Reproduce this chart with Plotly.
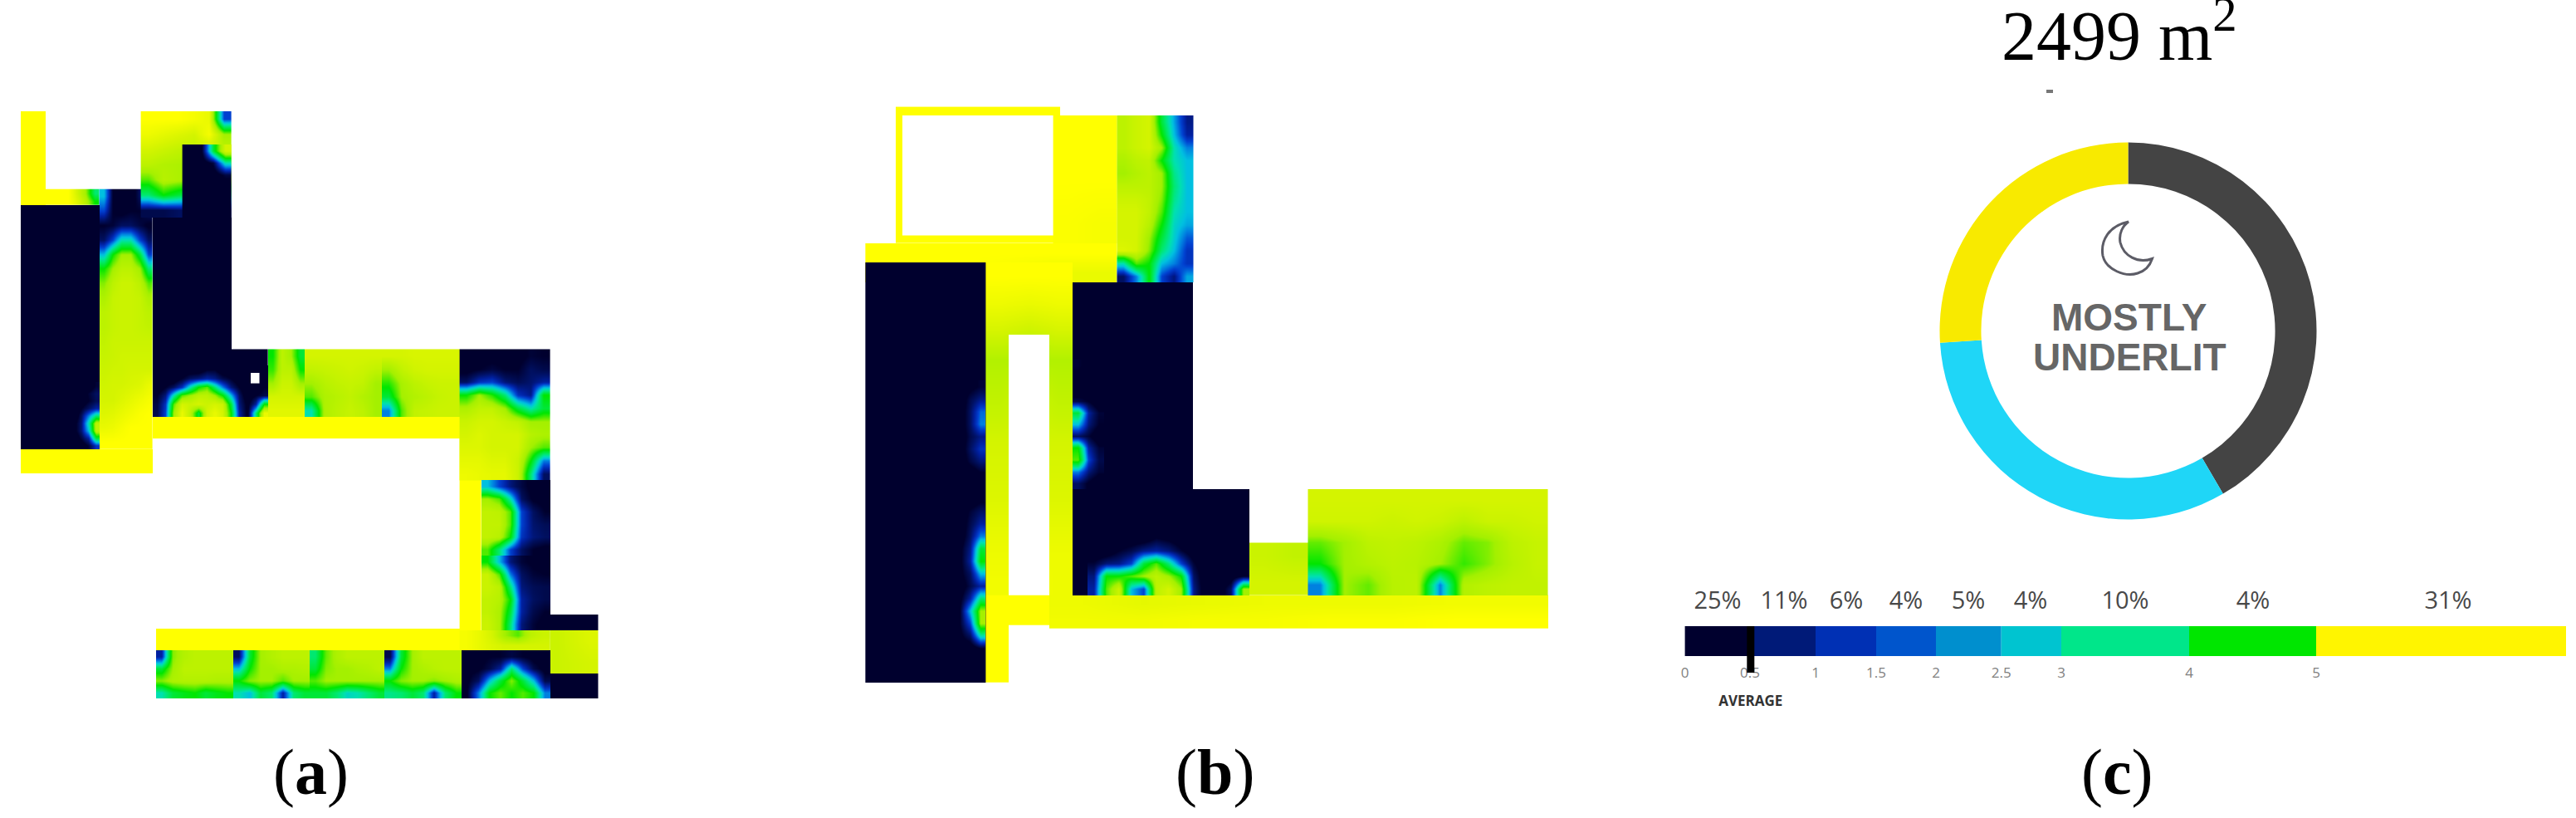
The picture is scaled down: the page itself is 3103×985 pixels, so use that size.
import plotly.graph_objects as go

# ---------- shared illuminance scale ----------
heat_stops = [0, 0.5, 1, 1.5, 2, 2.5, 3, 3.5, 4, 5, 6, 7, 8]
heat_colors = ["#00002e", "#00002e", "#001060", "#0020a0", "#0040d0", "#0080e0", "#00c0e0",
               "#00e0b0", "#00e870", "#00e600", "#a4f000", "#d4f400", "#ffff00"]
Z_MAX = 8

# ---------- panel (a) rooms: values top row first ----------
a_flat_yellow = [[8, 8], [8, 8]]
a_strip = [[8, 8, 8, 7, 6, 4], [8, 8, 8, 7.3, 6.4, 5]]
a_hall = [
    [3, .5, 0, 0, 1, 2], [2, .5, .3, .5, .5, 1], [.5, .6, 1, 1, .7, .4], [1, 2, 3.5, 3.5, 2, 1],
    [3, 5, 6, 6, 4.5, 2], [5, 6, 6.5, 6.5, 6, 4], [5.8, 6.5, 6.8, 6.8, 6.5, 5.5],
    [6.2, 6.7, 6.8, 6.8, 6.7, 6.2], [6.5, 6.7, 6.8, 6.8, 6.7, 6.5], [6.5, 6.7, 6.8, 6.8, 6.7, 6.6],
    [6.6, 6.8, 6.8, 6.8, 6.8, 6.8], [6.7, 6.8, 6.9, 6.9, 6.9, 6.9], [6.8, 6.9, 6.9, 7, 7, 7],
    [6.9, 7, 7, 7.1, 7.2, 7.5], [7, 7, 7.2, 7.4, 7.6, 7.8], [7.2, 7.3, 7.5, 7.7, 7.9, 8],
    [7.5, 7.6, 7.8, 8, 8, 8], [8, 8, 8, 8, 8, 8]]
a_left_blob = [
    [0, 0, 0, .6], [0, 0, .6, 1], [0, 0, .5, .9], [0, .5, 1, 1.5], [0, 1, 2.5, 4],
    [.3, 1.2, 3.5, 6.5], [.3, 1.2, 3, 6.5], [0, .7, 1.5, 4.5], [0, 0, .6, 1.8]]
a_navy = [[0, 0], [0, 0]]
a_top = [
    [8, 8, 8, 7.8, 7.5, 2], [7.6, 7.4, 7.2, 7, 7.8, 6], [7, 6.8, 6.6, 6.6, 6.6, 6.6],
    [6.5, 6.3, 6.2, 6, 6, 6], [5.5, 6.4, 6.2, 6, 6, 6], [4, 5, 4.5, 4, 4, 4], [.8, .8, 1, 1, 1, 1]]
a_top_notch = [
    [0, .3, 4.5, 7], [0, 0, .7, 3.5], [0, 0, 0, .7], [0, 0, 0, 0], [0, 0, 0, 0], [0, 0, 0, 0]]
a_center_blob = [
    [0, 0, 0, 0, 0, 0, .5, .5, 0, 0, 0, 0, 0, 0],
    [0, 0, 0, .5, 1, 1.2, 1.5, 1.3, .8, .5, 0, 0, 0, 0],
    [0, .5, 1, 1.8, 3.5, 5, 5.5, 4, 2.5, 1.2, .5, 0, 0, .5],
    [.5, 1.2, 3.5, 5.5, 6, 6.5, 6.5, 6, 5, 3, 1, 0, .5, .8],
    [.7, 1.8, 5.5, 7, 6.8, 7, 6.8, 7, 6.8, 4.5, 1.2, .3, 1.5, 5],
    [.8, 2, 6, 7.5, 6.5, 4.5, 7, 7.5, 7, 5, 1.5, .3, 4, 7.5]]
a_small = [
    [5, 6.5, 6, 4.5], [5.3, 6.5, 6.5, 5], [6, 6.8, 6.8, 6], [7, 7, 7, 7], [7.3, 7.3, 7.3, 7.3]]
a_wide1 = [
    [7, 7, 7, 7, 7, 7], [6.6, 6.7, 6.8, 6.9, 6.8, 6.6], [6, 6.4, 6.6, 6.7, 6.6, 6],
    [5.5, 6.2, 6.4, 6.6, 6.3, 6], [3.5, 6.2, 6.5, 6.7, 6.5, 6]]
a_wide2 = [
    [7, 7, 7.1, 7.1, 7.1, 7.1], [6, 6.6, 6.9, 7, 7, 7], [5.2, 6.1, 6.5, 6.7, 6.8, 6.8],
    [4.5, 6, 6.3, 6.5, 6.7, 6.8], [2.5, 5.5, 6.6, 6.7, 6.8, 6.8]]
a_right = [
    [.3, .3, .3, .3, .3, .6, .5], [.3, .5, .7, .5, .5, 1, .8], [1, 1.8, 2, 1.2, .9, 1.1, 1.5],
    [5, 6, 5.2, 4, 1.8, 1.3, 5], [6.2, 6.6, 6.6, 6, 4.5, 3.5, 4.5], [6.8, 7, 7, 6.8, 6.6, 6, 6],
    [7, 7.2, 7, 7, 7, 6.4, 6.2], [7.2, 7.2, 7, 7, 7, 6, 5.5], [7.4, 7.4, 7.2, 7.2, 6.8, 5, 2.5],
    [7.6, 7.5, 7.4, 7.4, 6.8, 4, 1]]
a_room_e = [
    [3, 2, 1.2, .7, .3, .3], [6, 5.5, 3.5, 1, .4, .3], [6.6, 6.5, 5.5, 2, 1, .5],
    [6.6, 6.6, 5.5, 2, 1.1, .9], [6.6, 6.4, 5, 1.8, 1.2, 1], [5.5, 4, 2, 1, .5, .3]]
a_room_f = [
    [5, 3, 1.2, .6, .4, .3], [6.8, 5.5, 2.5, 1, .6, .5], [6.8, 6.5, 4, 1.2, .9, .8],
    [6.6, 6.4, 5, 1.5, 1, .8], [6.6, 6.2, 4.5, 1.5, .8, .5], [6.8, 6.2, 4, 1.2, .6, .3]]
a_corr_right = [[7.8, 7.5, 7, 6, 5.5, 6.5, 6.8], [7.8, 7.5, 7.2, 7, 7, 7, 7]]
a_stub = [[6.8, 7, 7.2], [6.8, 6.9, 7]]
a_b1 = [[1.5, 5.8, 6.3, 6.5, 6.5, 6.5, 6.5], [4.5, 6, 6.5, 6.5, 6.5, 6.5, 6.5],
        [5.8, 6.2, 6.3, 6.3, 6.3, 6.2, 6.2], [3.5, 4.5, 4.8, 5, 4.5, 4.8, 5]]
a_b2 = [[1, 4.5, 6, 6.3, 6.5, 6.5, 6.5], [3, 5, 6, 6, 6.2, 6.2, 6.3],
        [5, 5.8, 6, 6, 5.5, 6, 6], [3.5, 3, 4.5, 4, 1.5, 4, 4.5]]
a_b3 = [[4, 5.6, 6.2, 6.5, 6.5, 6.5, 6.5], [4.5, 5.8, 6, 6, 6.2, 6.3, 6.5],
        [5.5, 6, 6, 6, 6, 6, 6], [4.5, 4.5, 4, 3.3, 3.5, 4, 4.5]]
a_b4 = [[.8, 4.5, 6, 6.5, 6.5, 6.5, 6.5], [2.5, 5, 6, 6.2, 6.4, 6.5, 6.5],
        [5, 5.8, 6, 6, 5.8, 6, 6.2], [3.8, 4, 4.5, 4, 1.5, 4, 5]]
a_b5 = [[.3, .3, .5, .5, .7, .5, .3, .3], [.3, .4, .8, 1.5, 4, 2, .8, .3],
        [.4, 1, 3, 4.5, 5.8, 4.5, 3, .8], [.5, 2.5, 5, 5.6, 5, 5.5, 5, 2.5]]

# ---------- panel (b) rooms ----------
b_entry = [[8, 8, 8, 8, 8, 8], [8, 8, 8, 7.8, 7.5, 7.5]]
b_stair = [[8, 8], [8, 8], [7.9, 7.8]]
b_hall = [
    [8, 8, 8], [7.6, 7.5, 7.6], [7, 6.8, 7], [6.3, 6.3, 6.3], [6.5, 6.8, 6.5], [6.7, 6.9, 6.7],
    [7, 7, 7], [7.1, 7.1, 7.1], [7.2, 7.2, 7.2], [7.4, 7.4, 7.4], [7.6, 7.6, 7.6], [7.7, 7.7, 7.6]]
b_long = [[7.6, 7.4, 7.5, 7.6, 7.6, 7.6, 7.7, 7.7], [7.7, 7.7, 7.8, 7.8, 7.9, 7.9, 8, 8]]
b_upper = [
    [6.5, 6.8, 7, 4.5, 2.8, 1.3], [6.5, 6.8, 7, 5, 3, 1.5], [6.5, 6.8, 7, 6, 3.5, 2.5],
    [6.2, 6.5, 6.6, 5, 3.5, 3], [6, 6.3, 6.5, 6, 3.8, 3], [6.5, 6.5, 6.5, 6, 4, 3],
    [6.8, 6.8, 6.6, 5.8, 3.8, 3], [7, 7, 6.6, 5.5, 3.5, 3], [7, 7, 6.4, 5, 3.3, 2.8],
    [7, 7, 6, 4.5, 3.2, 2.2], [7.2, 7, 5.8, 4, 3, 1.8], [3.5, 5.5, 5, 3, 2.5, 1.8],
    [1, 2.5, 5, 2, 1.2, 2.8]]
b_left_blobs = [
    [0, .3, .6], [0, .8, 1.3], [0, 1, 2.3], [0, 1, 2.5], [0, .8, 1.3], [0, 1, 1.8], [0, .7, 1.2],
    [0, 0, .4], [0, 0, 0], [0, 0, .3], [0, .6, 1], [0, .8, 1.5], [0, 1, 2.5], [.3, 1.3, 4.5],
    [.3, 1.5, 5], [.3, 1, 3], [0, .8, 1.5], [.3, 1.5, 4], [.5, 3, 6], [.5, 2, 6], [.3, 1, 3.5],
    [0, 0, .5]]
b_mid_blobs = [
    [.6, .3, 0], [.4, 0, 0], [0, 0, 0], [.8, .5, 0], [4.5, 1.5, .6], [3, 1.2, .5], [1, .6, 0],
    [5, 1.5, .6], [5.5, 2, .8], [2.5, 1.2, .6], [1, .4, 0]]
b_low_blob = [
    [0, 0, 0, 0, 0, .5, .3, 0, 0, 0, 0, 0, 0],
    [0, 0, .5, .8, 1.3, 1.5, 1.2, .6, 0, 0, 0, 0, 0],
    [.6, 1.2, 1.3, 2, 4.5, 5.5, 4, 2, .6, 0, 0, 0, 0],
    [1.2, 5, 5, 5.5, 6, 6.5, 6, 5, 1, 0, 0, 0, .5],
    [1.5, 5.5, 6.8, 3, 2, 6.5, 7, 6, 1.3, 0, 0, 1, 6]]
b_small = [[6.8, 6.6], [7, 7]]
b_wide = [
    [7, 7, 7, 7, 7, 7, 7, 7, 7, 7],
    [6.9, 6.9, 6.9, 6.8, 6.9, 6.8, 6.5, 6.8, 6.8, 6.9],
    [5.6, 6, 6.5, 6.6, 6.5, 6.2, 5.6, 5.8, 6.5, 6.7],
    [5, 6, 6.3, 6.5, 6.4, 6, 5.3, 5.8, 6.4, 6.7],
    [2.5, 6, 5.6, 6.4, 6.5, 2.5, 6.3, 6.5, 6.6, 6.6]]

# ---------- rooms on the sheet: left, right, top, bottom, values ----------
rooms = [
    # panel a
    (25, 54.5, 134, 247, a_flat_yellow), (54.5, 119.6, 227.7, 247, a_strip),
    (119.6, 184, 227.7, 541, a_hall), (25, 119.6, 247, 541, a_navy), (85, 119.6, 460, 541, a_left_blob),
    (25, 184, 541, 570, a_flat_yellow), (169.6, 278.6, 134, 262, a_top),
    (219.6, 278.6, 174, 262, a_top_notch), (184, 278.6, 262, 502, a_navy), (278.6, 323, 420.5, 502, a_navy),
    (184, 323, 440, 502, a_center_blob), (323, 367, 420.5, 502, a_small), (367, 460, 420.5, 502, a_wide1),
    (460, 553.6, 420.5, 502, a_wide2), (184, 553.6, 502, 527.7, a_flat_yellow),
    (553.6, 580, 527.7, 783, a_flat_yellow), (553.6, 662.5, 420.5, 578, a_right),
    (580, 662.5, 578, 669, a_room_e), (580, 662.5, 669, 759, a_room_f),
    (188, 553.6, 757, 783, a_flat_yellow), (553.6, 662.5, 759, 783, a_corr_right),
    (662.5, 720, 740, 759, a_navy), (662.5, 720, 759, 811, a_stub), (662.5, 720, 811, 841, a_navy),
    (188, 281, 783, 841, a_b1), (281, 373, 783, 841, a_b2), (373, 463, 783, 841, a_b3),
    (463, 556, 783, 841, a_b4), (556, 662.5, 783, 841, a_b5),
    # panel b
    (1079, 1277, 128.6, 293, a_flat_yellow), (1042.4, 1345.5, 293, 340, b_entry),
    (1268.6, 1345.5, 139, 293, b_stair), (1187, 1292, 316, 716.7, b_hall),
    (1187, 1215, 716.7, 822, a_flat_yellow), (1215, 1264, 716.7, 752.5, a_flat_yellow),
    (1264, 1864.6, 716.7, 757, b_long), (1345.5, 1437, 139, 340, b_upper),
    (1042.4, 1187, 316, 822, a_navy), (1150, 1187, 458, 788, b_left_blobs),
    (1292, 1437, 340, 589, a_navy), (1292, 1330, 433, 589, b_mid_blobs),
    (1292, 1505, 589, 716.7, a_navy), (1310, 1505, 640, 716.7, b_low_blob),
    (1505, 1575.5, 653.5, 716.7, b_small), (1575.5, 1864.6, 589, 716.7, b_wide),
]
holes = [(302, 312.5, 449, 461.6), (1087, 1268.6, 139, 283.6), (1215, 1264, 403, 716.7)]

# ---------- panel (c) ----------
donut_labels = ["Underlit", "Partly lit", "Well lit"]
donut_values = [41.6, 32.4, 26.0]
donut_colors = ["#444444", "#1fd6f7", "#f8ea00"]

legend_percent = ["25%", "11%", "6%", "4%", "5%", "4%", "10%", "4%", "31%"]
legend_percent_x = [2069, 2149, 2224, 2296, 2371, 2446, 2560, 2714, 2949]
legend_tick_labels = ["0", "0.5", "1", "1.5", "2", "2.5", "3", "4", "5"]
legend_edges = [2029.6, 2108, 2187, 2260, 2332, 2410.7, 2483, 2637, 2790, 3091]
legend_colors = ["#00002e", "#001a78", "#0030b4", "#0055cc", "#008fce", "#00c4d0",
                 "#00e68a", "#00e600", "#fff500"]
panel_tags = ["a", "b", "c"]
panel_tag_x = [374, 1463, 2550]

fig = go.Figure()
colorscale = [[s / Z_MAX, c] for s, c in zip(heat_stops, heat_colors)]

for left, right, top, bottom, z in rooms:
    rows, cols = len(z), len(z[0])
    dx, dy = (right - left) / cols, (bottom - top) / rows
    fig.add_trace(go.Heatmap(z=z, x0=left + dx / 2, dx=dx, y0=top + dy / 2, dy=dy, zmin=0, zmax=Z_MAX,
                             colorscale=colorscale, zsmooth="best", showscale=False, hoverinfo="skip"))

# legend bar
for i, col in enumerate(legend_colors):
    seg_left = legend_edges[i] if i != 1 else 2113
    fig.add_trace(go.Bar(y=[772], x=[legend_edges[i + 1] - seg_left], base=[seg_left], width=[36],
                         orientation="h", marker=dict(color=col, line=dict(width=0)),
                         showlegend=False, hoverinfo="skip"))
fig.add_trace(go.Scatter(x=legend_percent_x, y=[726] * 9, mode="text", text=legend_percent,
                         textfont=dict(family="Open Sans", size=29, color="#484848"),
                         showlegend=False, hoverinfo="skip"))
fig.add_trace(go.Scatter(x=legend_edges[:9], y=[812] * 9, mode="text", text=legend_tick_labels,
                         textfont=dict(family="Open Sans", size=17, color="#808080"),
                         showlegend=False, hoverinfo="skip"))
fig.add_trace(go.Scatter(x=[2108.8], y=[846], mode="text", text=["AVERAGE"],
                         textfont=dict(family="Open Sans", size=17, color="#333333", weight=700),
                         showlegend=False, hoverinfo="skip"))
fig.add_trace(go.Scatter(x=[2108.8, 2108.8], y=[754, 810], mode="lines",
                         line=dict(color="#000000", width=9), showlegend=False, hoverinfo="skip"))

# donut
cx, cy, rad = 2563.5, 398.5, 227
fig.add_trace(go.Pie(labels=donut_labels, values=donut_values, hole=0.78, sort=False, direction="clockwise",
                     rotation=0, textinfo="none", showlegend=False, hoverinfo="skip",
                     marker=dict(colors=donut_colors, line=dict(width=0)),
                     domain=dict(x=[(cx - rad) / 3103, (cx + rad) / 3103],
                                 y=[1 - (cy + rad) / 985, 1 - (cy - rad) / 985])))

shapes = [dict(type="rect", x0=a, x1=b, y0=c, y1=d, fillcolor="#ffffff", line=dict(width=0), layer="above")
          for a, b, c, d in holes]
shapes.append(dict(type="rect", x0=2465, x1=2473, y0=108, y1=112, fillcolor="#777777", line=dict(width=0)))
shapes.append(dict(type="path",
                   path="M 2564 267 C 2540 272 2530 290 2533 308 C 2537 325 2560 334 2575 329 "
                        "C 2585 326 2590 319 2592.5 311.5 C 2575 318 2558 308 2554 292 C 2552 281 2557 272 2564 267 Z",
                   line=dict(color="#5c5c66", width=3), fillcolor="rgba(0,0,0,0)"))

annotations = [
    dict(x=2409, y=92, text="2499 m<sup>2</sup>", showarrow=False, xanchor="left", yanchor="bottom",
         font=dict(family="Liberation Serif", size=84, color="#000000")),
    dict(x=2564, y=382, text="MOSTLY", showarrow=False,
         font=dict(family="Liberation Sans", size=46, color="#666666", weight=700)),
    dict(x=2565, y=430, text="UNDERLIT", showarrow=False,
         font=dict(family="Liberation Sans", size=46, color="#666666", weight=700)),
]
for tag, tx in zip(panel_tags, panel_tag_x):
    annotations.append(dict(x=tx, y=929, text=f"(<b>{tag}</b>)", showarrow=False,
                            font=dict(family="Liberation Serif", size=78, color="#000000")))

fig.update_layout(width=3103, height=985, margin=dict(l=0, r=0, t=0, b=0), paper_bgcolor="#ffffff",
                  plot_bgcolor="#ffffff", barmode="overlay", showlegend=False, shapes=shapes,
                  annotations=annotations,
                  xaxis=dict(range=[0, 3103], visible=False, fixedrange=True),
                  yaxis=dict(range=[985, 0], visible=False, fixedrange=True))

fig.write_html("out.html", post_script="document.body.style.margin='0';", config={"displayModeBar": False})
